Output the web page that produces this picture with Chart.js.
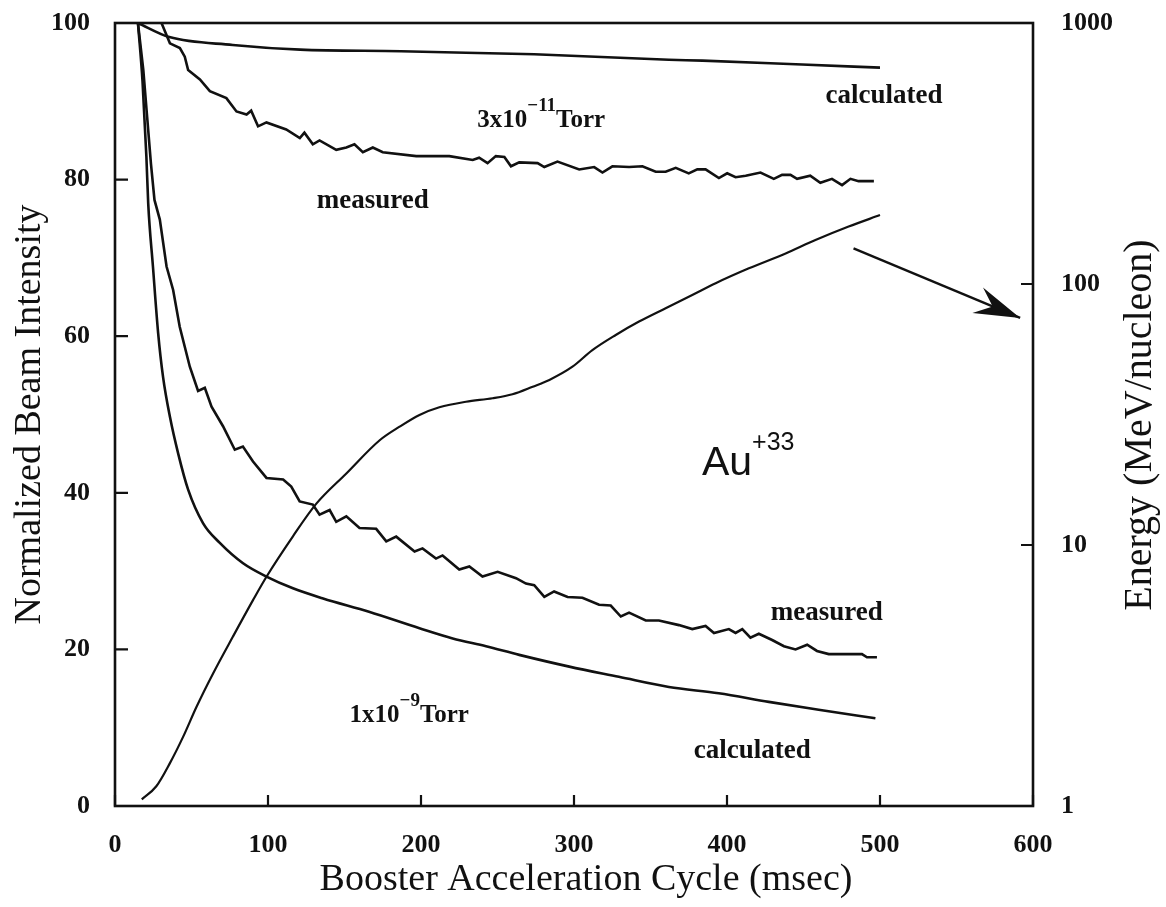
<!DOCTYPE html>
<html>
<head>
<meta charset="utf-8">
<title>Au+33 beam intensity</title>
<script src="https://cdn.jsdelivr.net/npm/chart.js@4.4.1/dist/chart.umd.min.js"></script>
<style>
  html, body { margin: 0; padding: 0; background: #ffffff; }
  #wrap { width: 1166px; height: 907px; }
</style>
</head>
<body>
<div id="wrap"><canvas id="beamChart" width="1166" height="907"></canvas></div>
<script>
// tick values
const cycleTicks = [0, 100, 200, 300, 400, 500, 600];
const intensityTicks = [0, 20, 40, 60, 80, 100];
const energyTicks = [1, 10, 100, 1000];

// 3x10^-11 Torr, calculated
const calc11X = [15, 35.5, 77, 121, 187, 252, 274, 362, 384, 449, 500];
const calc11Y = [100, 98.2, 97.2, 96.6, 96.4, 96.1, 96.0, 95.3, 95.2, 94.7, 94.3];

// 3x10^-11 Torr, measured
const meas11X = [30.4, 35.9, 42.4, 45.6, 47.8, 55.5, 62, 72.8, 79.4, 86, 89, 93.5, 99, 111.9, 120.8, 123.8,
  129.3, 133.7, 144.6, 151.2, 156.5, 162, 168.5, 175, 196.9, 218.5, 233.8, 238, 243.5, 248.9, 254.5,
  258.8, 264.2, 276.2, 280.6, 289.2, 303.4, 313.2, 318.6, 325.1, 336, 344.7, 353.4, 359.9, 366.5, 375,
  380.6, 386, 394.7, 400.1, 405.6, 412.2, 421.9, 430.6, 436, 441.5, 445.8, 454.4, 461, 468.6, 475.2,
  480.7, 486, 496];
const meas11Y = [100, 97.4, 96.8, 95.7, 94, 92.8, 91.3, 90.4, 88.7, 88.3, 88.8, 86.8, 87.3, 86.4, 85.3, 86,
  84.5, 85, 83.8, 84.1, 84.5, 83.5, 84.1, 83.5, 83, 83, 82.5, 82.8, 82.1, 83, 82.9,
  81.7, 82.2, 82.1, 81.6, 82.3, 81.3, 81.6, 80.9, 81.7, 81.6, 81.7, 81, 81, 81.5, 80.8,
  81.3, 81.3, 80.2, 80.8, 80.3, 80.5, 80.9, 80.1, 80.6, 80.6, 80.1, 80.5, 79.6, 80.1, 79.3,
  80.1, 79.8, 79.8];

// 1x10^-9 Torr, calculated
const calc9X = [15, 18, 20.5, 21.7, 24.8, 28.2, 31.4, 35.9, 41.3, 47.8, 57.6, 68.5, 83.7, 99, 116.3, 136,
  166, 199, 220.7, 242.5, 264.2, 296.9, 329.3, 362, 394.6, 427.3, 459.9, 497];
const calc9Y = [100, 92.5, 83, 77, 68.9, 60.4, 54.8, 49.7, 45, 40.4, 36.1, 33.6, 31, 29.3, 27.8, 26.5,
  24.8, 22.7, 21.4, 20.4, 19.3, 17.8, 16.5, 15.2, 14.4, 13.3, 12.3, 11.2];

// 1x10^-9 Torr, measured
const meas9X = [15, 18.5, 21, 23.5, 25.8, 29.3, 33.7, 38, 42.3, 48.9, 54.3, 58.7, 63.1, 70.6, 78.3, 83.6,
  90.2, 99, 109.9, 115.2, 120.7, 129.3, 133.7, 140.3, 144.6, 151.2, 159.8, 170.7, 177.3, 183.8, 195.8,
  201, 209.8, 214.1, 225, 231.6, 240.2, 250.1, 262.1, 268.6, 274, 280.6, 287, 295.8, 305.5, 316.4,
  324, 330.6, 336, 346.9, 355.5, 368.6, 377.3, 386, 391.5, 401.2, 405.6, 410, 415.3, 420.8, 429.5,
  437.2, 444.8, 452.4, 458.8, 466.5, 488.2, 491.5, 498];
const meas9Y = [100, 94, 88, 82, 77.4, 74.9, 68.9, 65.9, 61.2, 56.1, 53, 53.4, 51, 48.5, 45.5, 45.9,
  44, 41.9, 41.7, 40.8, 38.9, 38.5, 37.2, 37.8, 36.3, 37, 35.5, 35.4, 33.8, 34.4, 32.5,
  32.9, 31.6, 32, 30.2, 30.6, 29.3, 29.9, 29.1, 28.4, 28.2, 26.7, 27.4, 26.7, 26.6, 25.7,
  25.6, 24.2, 24.7, 23.7, 23.7, 23.1, 22.6, 23, 22.1, 22.6, 22.1, 22.6, 21.5, 22, 21.2,
  20.4, 20, 20.6, 19.8, 19.4, 19.4, 19, 19];

// Au+33 energy (MeV/nucleon), right log axis
const energyX = [17.5, 27, 35.9, 44.5, 53.3, 64.1, 77.1, 90.2, 99, 116.3, 131.6, 151.2, 173, 186, 199, 212,
  229.4, 246.8, 259.8, 273, 283.9, 299, 312, 327.3, 342.5, 359.9, 377.3, 392.6, 414.3, 438.3, 457.8,
  479.5, 500];
const energyY = [1.06, 1.19, 1.46, 1.84, 2.4, 3.22, 4.46, 6.15, 7.56, 10.8, 14.4, 18.8, 25.2, 28.4, 31.5, 33.7,
  35.4, 36.5, 37.8, 40.4, 42.9, 48.2, 55.8, 63.8, 71.8, 80.8, 90.8, 100.7, 114.8, 131, 147.4,
  166, 183.7];

// pointer from the energy curve to the right axis (x, energy)
const arrowX = [482.7, 591.6];
const arrowY = [137, 74.1];

const SERIF = "'Liberation Serif', 'Times New Roman', serif";
const SANS = "'Liberation Sans', Arial, sans-serif";
const WORD_FONT = `bold 27px ${SERIF}`;
const TORR_FONT = `bold 25px ${SERIF}`;
const SUP_FONT = `bold 19px ${SERIF}`;

// text inside the plot, placed in data units (x, left axis)
const notes = [
  { x: 464.4, y: 89.8, parts: [{ text: "calculated", font: WORD_FONT }] },
  { x: 236.8, y: 86.7, parts: [
    { text: "3x10", font: TORR_FONT },
    { text: "\u221211", font: SUP_FONT, rise: 16 },
    { text: "Torr", font: TORR_FONT },
  ] },
  { x: 131.8, y: 76.4, parts: [{ text: "measured", font: WORD_FONT }] },
  { x: 383.6, y: 42.3, parts: [
    { text: "Au", font: `41px ${SANS}` },
    { text: "+33", font: `25px ${SANS}`, rise: 25 },
  ] },
  { x: 428.6, y: 23.8, parts: [{ text: "measured", font: WORD_FONT }] },
  { x: 153.3, y: 10.7, parts: [
    { text: "1x10", font: TORR_FONT },
    { text: "\u22129", font: SUP_FONT, rise: 16 },
    { text: "Torr", font: TORR_FONT },
  ] },
  { x: 378.3, y: 6.1, parts: [{ text: "calculated", font: WORD_FONT }] },
];

const toPoints = (xs, ys) => xs.map((x, i) => ({ x: x, y: ys[i] }));

const lineSet = (label, xs, ys, opts) => Object.assign({
  label: label,
  data: toPoints(xs, ys),
  showLine: true,
  borderColor: "#111111",
  borderWidth: 2.6,
  pointRadius: 0,
  fill: false,
  tension: 0,
  yAxisID: "y",
}, opts || {});

const drawParts = (ctx, parts, x, y) => {
  let cx = x;
  parts.forEach((p) => {
    ctx.font = p.font;
    ctx.fillText(p.text, cx, y - (p.rise || 0));
    cx += ctx.measureText(p.text).width;
  });
};

// fixed box sizes so the plot frame lands where the scan has it
const fixWidth = (w) => (s) => {
  s.width = w;
  s.paddingTop = 0;
  s.paddingBottom = 0;
};

// frame + inward tick marks
const framePlugin = {
  id: "frame",
  afterDatasetsDraw: (chart) => {
    const { ctx, chartArea, scales: { x, y, y2 } } = chart;
    const { left, right, top, bottom } = chartArea;
    ctx.save();
    ctx.strokeStyle = "#111111";
    ctx.lineWidth = 2.6;
    ctx.strokeRect(left, top, right - left, bottom - top);

    ctx.lineWidth = 2.2;
    ctx.beginPath();
    x.ticks.forEach((t) => {
      const px = x.getPixelForValue(t.value);
      ctx.moveTo(px, bottom);
      ctx.lineTo(px, bottom - 11);
    });
    y.ticks.forEach((t) => {
      const py = y.getPixelForValue(t.value);
      ctx.moveTo(left, py);
      ctx.lineTo(left + 13, py);
    });
    y2.ticks.forEach((t) => {
      const py = y2.getPixelForValue(t.value);
      ctx.moveTo(right, py);
      ctx.lineTo(right - 12, py);
    });
    ctx.stroke();
    ctx.restore();
  },
};

// arrowhead, notes and axis titles
const textPlugin = {
  id: "texts",
  afterDraw: (chart) => {
    const { ctx, chartArea, scales: { x, y } } = chart;
    ctx.save();
    ctx.fillStyle = "#111111";

    // arrowhead at the end of the pointer dataset
    const meta = chart.getDatasetMeta(5);
    const p0 = meta.data[0];
    const p1 = meta.data[1];
    if (p0 && p1) {
      const ang = Math.atan2(p1.y - p0.y, p1.x - p0.x);
      const len = 48;
      const spread = 0.29;
      ctx.beginPath();
      ctx.moveTo(p1.x, p1.y);
      ctx.lineTo(p1.x - len * Math.cos(ang - spread), p1.y - len * Math.sin(ang - spread));
      ctx.lineTo(p1.x - len * 0.62 * Math.cos(ang), p1.y - len * 0.62 * Math.sin(ang));
      ctx.lineTo(p1.x - len * Math.cos(ang + spread), p1.y - len * Math.sin(ang + spread));
      ctx.closePath();
      ctx.fill();
    }

    ctx.textAlign = "left";
    ctx.textBaseline = "alphabetic";
    notes.forEach((n) => {
      drawParts(ctx, n.parts, x.getPixelForValue(n.x), y.getPixelForValue(n.y));
    });

    // axis titles
    ctx.font = `38px ${SERIF}`;
    ctx.textAlign = "center";
    ctx.fillText("Booster Acceleration Cycle (msec)", (chartArea.left + chartArea.right) / 2 + 12, chartArea.bottom + 84);

    ctx.save();
    ctx.translate(40, (chartArea.top + chartArea.bottom) / 2);
    ctx.rotate(-Math.PI / 2);
    ctx.fillText("Normalized Beam Intensity", 0, 0);
    ctx.restore();

    ctx.save();
    ctx.font = `40px ${SERIF}`;
    ctx.translate(chartArea.right + 118, 425);
    ctx.rotate(-Math.PI / 2);
    ctx.fillText("Energy (MeV/nucleon)", 0, 0);
    ctx.restore();

    ctx.restore();
  },
};

const tickFont = { family: SERIF, size: 26, weight: "bold" };

const config = {
  type: "scatter",
  data: {
    datasets: [
      lineSet("calculated 3x10-11", calc11X, calc11Y, { cubicInterpolationMode: "monotone" }),
      lineSet("measured 3x10-11", meas11X, meas11Y),
      lineSet("calculated 1x10-9", calc9X, calc9Y, { cubicInterpolationMode: "monotone" }),
      lineSet("measured 1x10-9", meas9X, meas9Y),
      lineSet("energy", energyX, energyY, { yAxisID: "y2", borderWidth: 2.2, cubicInterpolationMode: "monotone" }),
      lineSet("pointer", arrowX, arrowY, { yAxisID: "y2", borderWidth: 2.4 }),
    ],
  },
  plugins: [framePlugin, textPlugin],
  options: {
    responsive: false,
    animation: false,
    events: [],
    layout: { padding: { top: 23, left: 0, right: 0, bottom: 0 } },
    plugins: {
      legend: { display: false },
      tooltip: { enabled: false },
    },
    scales: {
      x: {
        type: "linear",
        position: "bottom",
        min: 0,
        max: 600,
        grid: { display: false, drawTicks: false },
        border: { display: false },
        afterBuildTicks: (s) => { s.ticks = cycleTicks.map((v) => ({ value: v })); },
        afterFit: (s) => { s.height = 101; },
        ticks: { color: "#111111", font: tickFont, padding: 24, maxRotation: 0 },
      },
      y: {
        type: "linear",
        position: "left",
        min: 0,
        max: 100,
        grid: { display: false, drawTicks: false },
        border: { display: false },
        afterBuildTicks: (s) => { s.ticks = intensityTicks.map((v) => ({ value: v })); },
        afterFit: fixWidth(115),
        ticks: { color: "#111111", font: tickFont, padding: 25 },
      },
      y2: {
        type: "logarithmic",
        position: "right",
        min: 1,
        max: 1000,
        grid: { display: false, drawTicks: false },
        border: { display: false },
        afterBuildTicks: (s) => { s.ticks = energyTicks.map((v) => ({ value: v })); },
        afterFit: fixWidth(133),
        ticks: { color: "#111111", font: tickFont, padding: 28, callback: (v) => String(v) },
      },
    },
  },
};

new Chart(document.getElementById("beamChart").getContext("2d"), config);
</script>
</body>
</html>
